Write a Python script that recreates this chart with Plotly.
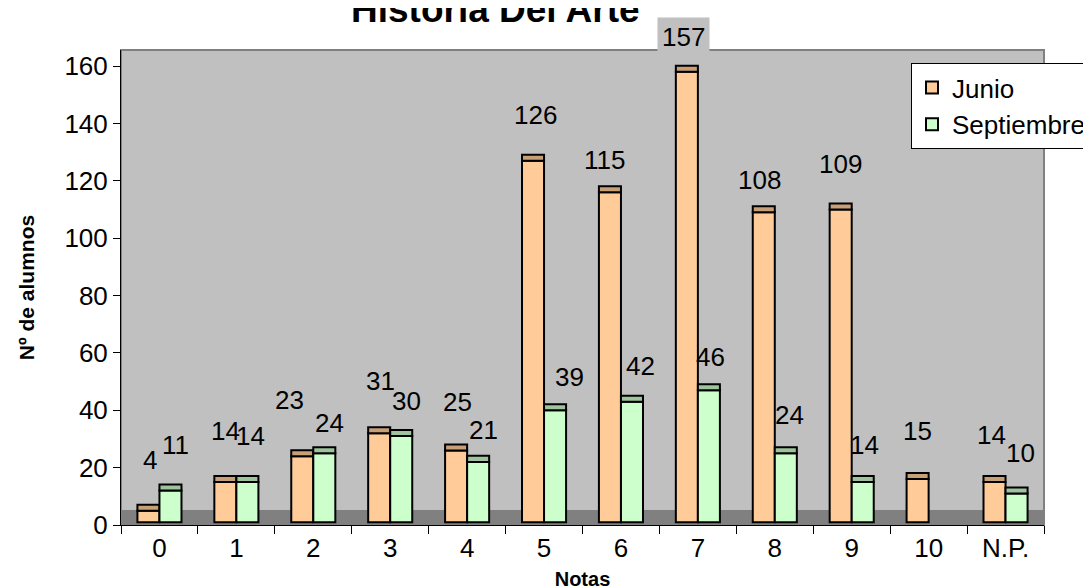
import plotly.graph_objects as go

# ---------------- data ----------------
categories = ['0', '1', '2', '3', '4', '5', '6', '7', '8', '9', '10', 'N.P.']
junio = [4, 14, 23, 31, 25, 126, 115, 157, 108, 109, 15, 14]
septiembre = [11, 14, 24, 30, 21, 39, 42, 46, 24, 14, None, 10]

# label placement offsets in pixels relative to the bar value (style only)
junio_label_dx = [1.5, 0.6, -12.6, 1.5, 1.8, 2.9, -5, -2.9, -3.9, 0.2, 0.3, -2.6]
junio_label_dy = [-53.5, -53.8, -59.3, -55.1, -51.3, -48.5, -35.1, -37.6, -35.2, -48.3, -51, -49.8]
sept_label_dx = [5.5, 3.6, 5.4, 4.8, 5.8, 14.9, 9, 2.1, 4.1, 2.2, 0, 4.4]
sept_label_dy = [-48.4, -48.8, -33.2, -38, -35.1, -36.1, -38.5, -36, -41.2, -39.8, 0, -43.3]

# ---------------- style ----------------
W, H = 1091, 588
ML, MR, MT, MB = 113, 55, 42, 71
YMAX = 165.6
BASE = 1.0       # small lift of the 3D columns above the axis
CAP = 2.1        # depth of the 3D top face
FLOOR = 5.2      # height of the dark floor band
BARGAP = 0.427
FONT = "Arial, 'Liberation Sans', sans-serif"
J_COL, J_TOP = '#FFCC99', '#C8A078'
S_COL, S_TOP = '#CCFFCC', '#9EC49E'

plot_w = W - ML - MR
plot_h = H - MT - MB
px_per_unit = plot_h / YMAX
bar_off = plot_w / len(categories) * (1 - BARGAP) / 4

fig = go.Figure()


def add_series(name, vals, col, top, group, legend):
    base = [BASE if v is not None else None for v in vals]
    fig.add_trace(go.Bar(
        x=categories, y=vals, base=base, name=name, offsetgroup=group,
        marker=dict(color=col, line=dict(color='black', width=2)),
        showlegend=legend, hoverinfo='skip'))
    cap_base = [BASE + v if v is not None else None for v in vals]
    cap_h = [CAP if v is not None else None for v in vals]
    fig.add_trace(go.Bar(
        x=categories, y=cap_h, base=cap_base, name=name + ' top',
        offsetgroup=group,
        marker=dict(color=top, line=dict(color='black', width=2)),
        showlegend=False, hoverinfo='skip'))


add_series('Junio', junio, J_COL, J_TOP, 'j', True)
add_series('Septiembre', septiembre, S_COL, S_TOP, 's', True)

annotations = []
label_size = 26
for vals, dxs, dys, sign in [(junio, junio_label_dx, junio_label_dy, -1),
                             (septiembre, sept_label_dx, sept_label_dy, 1)]:
    for cat, v, dx, dy in zip(categories, vals, dxs, dys):
        if v is None:
            continue
        center_px = MT + plot_h - v * px_per_unit + dy
        above = center_px - label_size * 0.6 < MT
        annotations.append(dict(
            x=cat, y=v, xref='x', yref='y', text=str(v), showarrow=False,
            xshift=sign * bar_off + dx, yshift=-dy,
            font=dict(family=FONT, size=label_size, color='black'),
            bgcolor='#C0C0C0' if above else 'rgba(0,0,0,0)', borderpad=4))

annotations.append(dict(
    text='<b>Historia Del Arte</b>', xref='paper', yref='paper',
    x=(487.5 - ML) / plot_w, y=1 + (MT - 1) / plot_h,
    xanchor='center', yanchor='middle', showarrow=False,
    font=dict(family=FONT, size=37, color='black')))

fig.update_layout(
    width=W, height=H,
    margin=dict(l=ML, r=MR, t=MT, b=MB, pad=0, autoexpand=False),
    paper_bgcolor='white', plot_bgcolor='#C0C0C0',
    barmode='group', bargap=BARGAP, bargroupgap=0,
    font=dict(family=FONT, size=26, color='black'),
    annotations=annotations,
    legend=dict(x=(903 - ML) / plot_w, y=1 - (55 - MT) / plot_h,
                xanchor='left', yanchor='top', bgcolor='white',
                bordercolor='black', borderwidth=1,
                font=dict(family=FONT, size=26), traceorder='normal'),
    shapes=[
        dict(type='rect', xref='paper', yref='y', x0=0, x1=1, y0=0, y1=FLOOR,
             fillcolor='#808080', line=dict(width=0), layer='below'),
        dict(type='rect', xref='paper', yref='paper', x0=0, x1=1, y0=0, y1=1,
             fillcolor='rgba(0,0,0,0)', line=dict(color='#808080', width=2),
             layer='below'),
    ],
)

fig.update_xaxes(
    type='category', showline=True, linecolor='black', linewidth=1,
    ticks='outside', tickson='boundaries', ticklen=8, tickcolor='black',
    showgrid=False, zeroline=False, automargin=False,
    tickfont=dict(family=FONT, size=26),
    title=dict(text='<b>Notas</b>', font=dict(family=FONT, size=20), standoff=9))

fig.update_yaxes(
    range=[0, YMAX], tickvals=[0, 20, 40, 60, 80, 100, 120, 140, 160],
    showline=True, linecolor='black', linewidth=1,
    ticks='outside', ticklen=7, tickcolor='black',
    showgrid=False, zeroline=False, automargin=False,
    tickfont=dict(family=FONT, size=26),
    title=dict(text='<b>Nº de alumnos</b>', font=dict(family=FONT, size=21), standoff=24))

fig.write_html('out.html')
